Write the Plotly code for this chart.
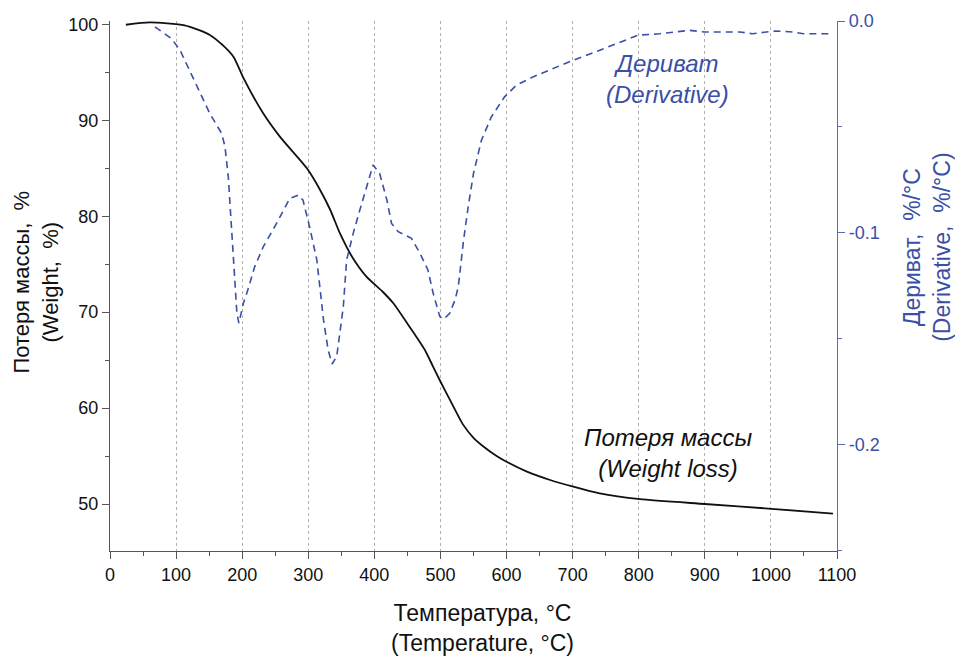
import plotly.graph_objects as go

# Weight loss (TG) curve
temp_w = [24, 60, 113, 151, 171, 187, 202, 232, 257, 287, 300, 315, 333, 348, 366, 388, 413,
          429, 454, 476, 489, 499, 514, 534, 550, 565, 585, 600, 630, 666, 701, 741, 802, 900,
          1001, 1094]
weight = [99.96, 100.2, 99.9, 98.9, 97.8, 96.6, 94.4, 90.7, 88.3, 85.9, 84.8, 83.1, 80.7, 78.2,
          75.8, 73.7, 72.1, 70.9, 68.4, 66.1, 64.3, 62.9, 60.9, 58.3, 56.9, 56.0, 55.0, 54.4,
          53.4, 52.5, 51.8, 51.1, 50.5, 50.0, 49.5, 49.0]

# Derivative (DTG) curve
temp_d = [68, 93, 106, 118, 136, 151, 169, 174, 179, 184, 188, 192, 195, 202, 207, 219, 232,
          252, 272, 285, 292, 302, 313, 320, 323, 330, 336, 343, 353, 358, 368, 378, 391, 398,
          408, 419, 426, 436, 456, 469, 481, 489, 499, 505, 514, 522, 527, 535, 542, 550, 562,
          577, 597, 615, 640, 663, 701, 741, 799, 832, 877, 900, 953, 972, 1007, 1033, 1049,
          1094]
deriv = [-0.0028, -0.0083, -0.0138, -0.0217, -0.0342, -0.0437, -0.0531, -0.0594, -0.0736,
         -0.0972, -0.116, -0.138, -0.1427, -0.133, -0.1286, -0.116, -0.1066, -0.0956, -0.0838,
         -0.0822, -0.0846, -0.0972, -0.1129, -0.1317, -0.141, -0.1553, -0.162, -0.1585,
         -0.135, -0.1129, -0.1003, -0.0893, -0.076, -0.068, -0.072, -0.0846, -0.0956, -0.0995,
         -0.1026, -0.1097, -0.1176, -0.1286, -0.1396, -0.1408, -0.138, -0.1318, -0.1255,
         -0.1034, -0.0877, -0.072, -0.0563, -0.0453, -0.0358, -0.0303, -0.0264, -0.0233,
         -0.0185, -0.0138, -0.0067, -0.006, -0.0044, -0.0052, -0.0052, -0.006, -0.0047,
         -0.0052, -0.006, -0.006]

x_ticks = list(range(0, 1101, 100))
y_ticks = [50, 60, 70, 80, 90, 100]
y2_ticks = [-0.2, -0.1, 0.0]
y2_labels = ["-0.2", "-0.1", "0.0"]

BLUE = "#3a4fa6"
FONT = "Liberation Sans, Arial, sans-serif"

fig = go.Figure()
fig.add_trace(go.Scatter(x=temp_w, y=weight, mode="lines",
                         line=dict(color="#111111", width=1.8, shape="spline", smoothing=0.6),
                         showlegend=False, hoverinfo="skip"))
fig.add_trace(go.Scatter(x=temp_d, y=deriv, mode="lines", yaxis="y2",
                         line=dict(color=BLUE, width=1.6, dash="7px,5px"),
                         showlegend=False, hoverinfo="skip"))

axis_font = dict(family=FONT, size=18, color="#111111")

fig.update_layout(
    width=955, height=659,
    margin=dict(l=110, r=118, t=21, b=108),
    plot_bgcolor="white", paper_bgcolor="white",
    font=dict(family=FONT),
    xaxis=dict(range=[0, 1100], tickvals=x_ticks, ticks="outside", ticklen=7,
               tickcolor="#555555", showline=True, linecolor="#555555", linewidth=1.3,
               showgrid=True, gridcolor="#b0b0b0", griddash="dot", gridwidth=1,
               zeroline=False, tickfont=axis_font,
               minor=dict(dtick=50, ticks="outside", ticklen=4, tickcolor="#555555",
                          showgrid=False)),
    yaxis=dict(range=[45.1, 100.35], tickvals=y_ticks, ticks="outside", ticklen=7,
               tickcolor="#555555", showline=True, linecolor="#555555", linewidth=1.3,
               showgrid=False, zeroline=False, tickfont=axis_font,
               minor=dict(dtick=5, tick0=0, ticks="outside", ticklen=4, tickcolor="#555555")),
    yaxis2=dict(range=[-0.2503, 0.0], overlaying="y", side="right", tickvals=y2_ticks,
                ticktext=y2_labels, ticks="outside", ticklen=7, tickcolor="#5b6bbb",
                showline=True, linecolor="#5b6bbb", linewidth=1.3, showgrid=False,
                zeroline=False, tickfont=dict(family=FONT, size=18, color=BLUE),
                minor=dict(dtick=0.05, tick0=0, ticks="outside", ticklen=4,
                           tickcolor="#5b6bbb")),
)

title_font = dict(family=FONT, size=23, color="#111111")
fig.add_annotation(text="Температура, °C<br>(Temperature, °C)", xref="paper", yref="paper",
                   x=0.512, y=-0.145, showarrow=False, font=title_font,
                   xanchor="center", yanchor="middle")
fig.add_annotation(text="Потеря массы,  %<br>(Weight,  %)", xref="paper", yref="paper",
                   x=-0.102, y=0.508, showarrow=False,
                   font=dict(family=FONT, size=22, color="#111111"), textangle=-90,
                   xanchor="center", yanchor="middle")
fig.add_annotation(text="Дериват,  %/°C<br>(Derivative,  %/°C)", xref="paper", yref="paper",
                   x=1.1238, y=0.572, showarrow=False,
                   font=dict(family=FONT, size=23, color=BLUE), textangle=-90,
                   xanchor="center", yanchor="middle")
fig.add_annotation(text="<i>Дериват</i><br><i>(Derivative)</i>", xref="paper", yref="paper",
                   x=0.7675, y=0.8906, showarrow=False,
                   font=dict(family=FONT, size=24, color=BLUE),
                   xanchor="center", yanchor="middle")
fig.add_annotation(text="<i>Потеря массы</i><br><i>(Weight loss)</i>", xref="paper",
                   yref="paper", x=0.7675, y=0.185, showarrow=False,
                   font=dict(family=FONT, size=24, color="#111111"),
                   xanchor="center", yanchor="middle")

fig.write_html("out.html")
